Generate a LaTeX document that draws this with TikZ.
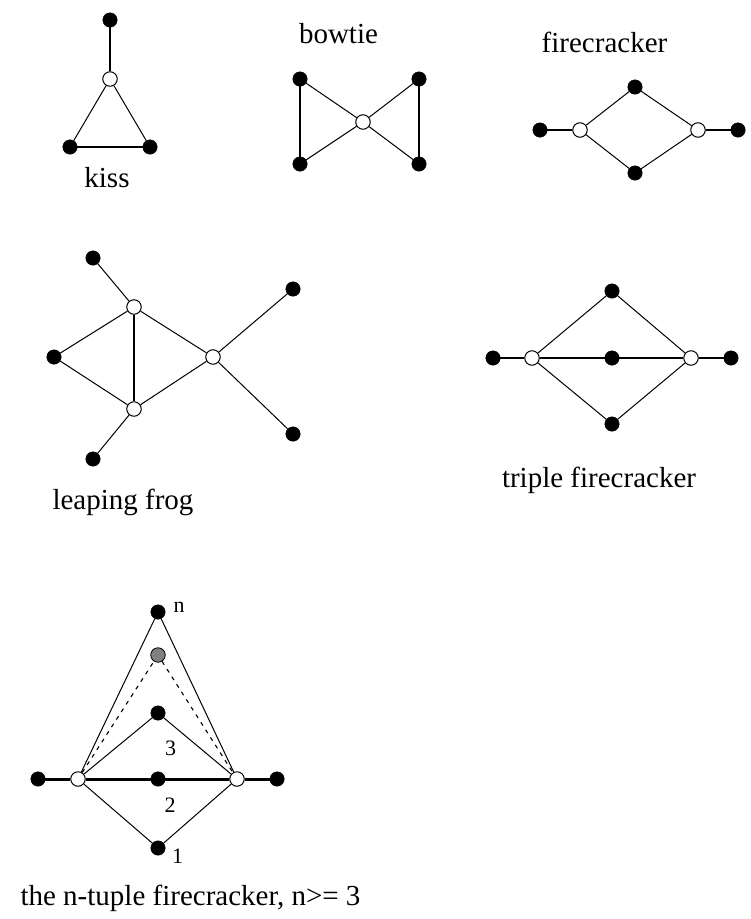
\documentclass[tikz,border=0pt]{standalone}
\usepackage{fontspec}
\setmainfont{Liberation Serif}
\begin{document}
\begin{tikzpicture}[x=1pt,y=-1pt,
  bdot/.style={circle,fill=black,draw=black,minimum size=14.5pt,inner sep=0pt},
  wdot/.style={circle,fill=white,draw=black,line width=1pt,minimum size=14.5pt,inner sep=0pt},
  gdot/.style={circle,fill=gray,draw=black,line width=0.8pt,minimum size=14.5pt,inner sep=0pt},
  edge/.style={line width=1pt},
  thickedge/.style={line width=1.6pt},
  boldedge/.style={line width=3pt},
  dotedge/.style={line width=1.1pt,dash pattern=on 4pt off 5pt},
  caption/.style={anchor=base,inner sep=0pt,font=\fontsize{29}{34}\selectfont},
  index/.style={anchor=base,inner sep=0pt,font=\fontsize{22}{26}\selectfont}]
\useasboundingbox (0,0) rectangle (751,919);

% kiss
\node[bdot] (k1) at (110,20) {};
\node[wdot] (k2) at (110,79) {};
\node[bdot] (k3) at (70,147) {};
\node[bdot] (k4) at (150,147) {};
\draw[thickedge] (k1) -- (k2);
\draw[edge] (k2) -- (k3);
\draw[edge] (k2) -- (k4);
\draw[thickedge] (k3) -- (k4);
\node[caption] (kisslabel) at (107,187) {kiss};

% bowtie
\node[bdot] (b1) at (300,79) {};
\node[bdot] (b2) at (300,164) {};
\node[wdot] (b0) at (363,122) {};
\node[bdot] (b3) at (419,79) {};
\node[bdot] (b4) at (419,164) {};
\draw[thickedge] (b1) -- (b2);
\draw[thickedge] (b3) -- (b4);
\draw[edge] (b1) -- (b0) -- (b4);
\draw[edge] (b2) -- (b0) -- (b3);
\node[caption] (bowlabel) at (338.5,43) {bowtie};

% firecracker
\node[bdot] (f1) at (540,130) {};
\node[wdot] (f2) at (580,130) {};
\node[bdot] (f3) at (635,87) {};
\node[bdot] (f4) at (635,173) {};
\node[wdot] (f5) at (698,130) {};
\node[bdot] (f6) at (738,130) {};
\draw[thickedge] (f1) -- (f2);
\draw[thickedge] (f5) -- (f6);
\draw[edge] (f2) -- (f3) -- (f5);
\draw[edge] (f2) -- (f4) -- (f5);
\node[caption] (firelabel) at (604.5,52) {firecracker};

% leaping frog
\node[bdot] (l1) at (93,258) {};
\node[wdot] (l2) at (134,307) {};
\node[bdot] (l3) at (54,357) {};
\node[wdot] (l4) at (134,409) {};
\node[bdot] (l5) at (93,459) {};
\node[wdot] (l6) at (213,357) {};
\node[bdot] (l7) at (293,289) {};
\node[bdot] (l8) at (293,434) {};
\draw[edge] (l1) -- (l2);
\draw[edge] (l2) -- (l3) -- (l4);
\draw[thickedge] (l2) -- (l4);
\draw[edge] (l2) -- (l6) -- (l4);
\draw[edge] (l4) -- (l5);
\draw[edge] (l6) -- (l7);
\draw[edge] (l6) -- (l8);
\node[caption] (froglabel) at (123,509) {leaping frog};

% triple firecracker
\node[bdot] (t1) at (493,358) {};
\node[wdot] (t2) at (532,358) {};
\node[bdot] (t3) at (612,291) {};
\node[bdot] (t4) at (612,358) {};
\node[bdot] (t5) at (612,424) {};
\node[wdot] (t6) at (691,358) {};
\node[bdot] (t7) at (731,358) {};
\draw[thickedge] (t1) -- (t2) -- (t4) -- (t6) -- (t7);
\draw[edge] (t2) -- (t3) -- (t6);
\draw[edge] (t2) -- (t5) -- (t6);
\node[caption] (triplelabel) at (599,487) {triple firecracker};

% n-tuple firecracker
\node[bdot] (n1) at (38,779) {};
\node[wdot] (n2) at (78,779) {};
\node[bdot] (nn) at (158,612) {};
\node[gdot] (ng) at (158,655) {};
\node[bdot] (n3) at (158,713) {};
\node[bdot] (nm) at (158,779) {};
\node[bdot] (nb) at (158,848) {};
\node[wdot] (n6) at (237,779) {};
\node[bdot] (n7) at (277,779) {};
\draw[boldedge] (n1) -- (n2) -- (nm) -- (n6) -- (n7);
\draw[edge] (n2) -- (nn) -- (n6);
\draw[dotedge] (n2) -- (ng) -- (n6);
\draw[edge] (n2) -- (n3) -- (n6);
\draw[edge] (n2) -- (nb) -- (n6);
\node[index] (labn) at (179,612) {n};
\node[index] (lab3) at (170.5,755) {3};
\node[index] (lab2) at (170,812) {2};
\node[index] (lab1) at (177.5,863) {1};
\node[caption] (ntuplelabel) at (190.5,905) {the n-tuple firecracker, n>= 3};
\end{tikzpicture}
\end{document}
